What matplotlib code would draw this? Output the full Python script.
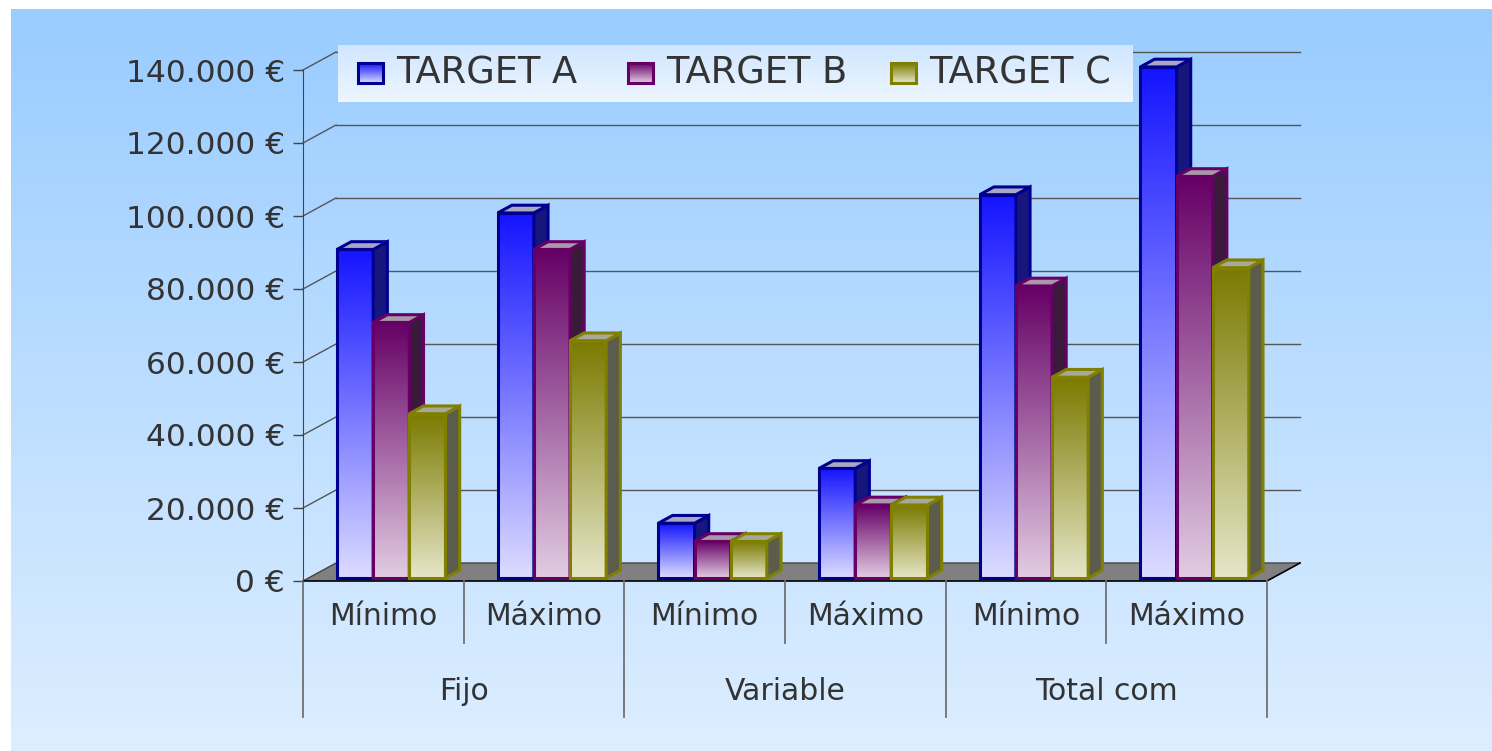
import numpy as np
import matplotlib.pyplot as plt
from matplotlib.patches import Polygon, Rectangle
from matplotlib.colors import to_rgb

# datos
grupos = ['Fijo', 'Variable', 'Total com']
subcategorias = ['Mínimo', 'Máximo', 'Mínimo', 'Máximo', 'Mínimo', 'Máximo']
series = ['TARGET A', 'TARGET B', 'TARGET C']
target_a = [90000, 100000, 15000, 30000, 105000, 140000]
target_b = [70000, 90000, 10000, 20000, 80000, 110000]
target_c = [45000, 65000, 10000, 20000, 55000, 85000]
yticks = [0, 20000, 40000, 60000, 80000, 100000, 120000, 140000]
ytick_labels = ['0 €', '20.000 €', '40.000 €', '60.000 €', '80.000 €',
                '100.000 €', '120.000 €', '140.000 €']

# estilos: (arriba, abajo, borde, lateral, tapa)
estilos = [
    ('#1414FF', '#DCDCFF', '#000090', '#16167C', '#A8A8C4'),
    ('#660066', '#E2CCE2', '#660066', '#3A1A3A', '#A898A8'),
    ('#7A7A00', '#E6E6C8', '#808000', '#5C5C4C', '#A8A898'),
]

W, H = 1492, 751
fig = plt.figure(figsize=(W / 100, H / 100), dpi=100)
fig.patch.set_facecolor('white')


def degradado(c_arriba, c_abajo, n=256):
    t = np.linspace(0, 1, n)[:, None]
    a = np.array(to_rgb(c_arriba))
    b = np.array(to_rgb(c_abajo))
    return (b + (a - b) * t)[:, None, :]


# fondo
bg = fig.add_axes([11 / W, 0, 1 - 11 / W, (H - 9) / H])
bg.imshow(degradado('#99CCFF', '#DDEEFF'), extent=(0, 1, 0, 1),
          origin='lower', aspect='auto')
bg.axis('off')

ax = fig.add_axes([303 / W, (H - 581) / H, 964 / W, 511 / H])
ax.set_facecolor('none')

n = len(subcategorias)
DX = 33 / (964 / n)          # profundidad del suelo en unidades x
DY = 18 * 140000 / 511       # profundidad del suelo en unidades y
F0 = 0.17                    # frente de las barras
D = 0.43                     # fondo de las barras
bw = 0.225
inicio = 0.177

# pared del fondo y rejilla
for v in yticks[1:]:
    ax.plot([0, DX], [v, v + DY], color='#555555', lw=1, clip_on=False, zorder=1)
    ax.plot([DX, n + DX], [v + DY, v + DY], color='#555555', lw=1,
            clip_on=False, zorder=1)

# suelo
ax.add_patch(Polygon([(0, 0), (n, 0), (n + DX, DY), (DX, DY)],
                     closed=True, fc='#808080', ec='none', clip_on=False, zorder=2))
ax.plot([0, DX, n + DX], [0, DY, DY], color='#444444', lw=1, clip_on=False, zorder=2)
ax.plot([0, n, n + DX], [0, 0, DY], color='black', lw=1.2, clip_on=False, zorder=2)

# barras
valores = [target_a, target_b, target_c]
z = 3
for i in range(n):
    for j, vals in enumerate(valores):
        c_top, c_bot, borde, lado, tapa = estilos[j]
        v = vals[i]
        xl = i + inicio + j * bw + F0 * DX
        xr = xl + bw
        yb = F0 * DY
        yt = v + F0 * DY
        ax.imshow(degradado(c_top, c_bot), extent=(xl, xr, yb, yt),
                  origin='lower', aspect='auto', interpolation='bilinear',
                  clip_on=False, zorder=z)
        ax.add_patch(Rectangle((xl, yb), bw, v, fill=False, ec=borde, lw=2.2,
                               clip_on=False, zorder=z + 0.1))
        ax.add_patch(Polygon([(xr, yb), (xr, yt), (xr + D * DX, yt + D * DY),
                              (xr + D * DX, yb + D * DY)], closed=True,
                             fc=lado, ec=borde, lw=2.2, joinstyle='miter',
                             clip_on=False, zorder=z + 0.2))
        ax.add_patch(Polygon([(xl, yt), (xr, yt), (xr + D * DX, yt + D * DY),
                              (xl + D * DX, yt + D * DY)], closed=True,
                             fc=tapa, ec=borde, lw=2.2, joinstyle='miter',
                             clip_on=False, zorder=z + 0.3))
        z += 1

ax.set_xlim(0, n)
ax.set_ylim(0, 140000)

# ejes
ax.set_yticks(yticks, ytick_labels)
ax.tick_params(axis='y', length=7, width=1, color='#444444', pad=6,
               labelsize=22.5, labelcolor='#333333')
ax.tick_params(axis='x', bottom=False, labelbottom=False)
for s in ['top', 'right', 'bottom']:
    ax.spines[s].set_visible(False)
ax.spines['left'].set_color('#444444')

# etiquetas de categorías
tr = ax.get_xaxis_transform()
for k in range(n + 1):
    largo = -0.266 if k % 2 == 0 else -0.121
    ax.plot([k, k], [0, largo], transform=tr, color='#707070', lw=1.3,
            clip_on=False)
for i, lab in enumerate(subcategorias):
    ax.text(i + 0.5, -0.07, lab, transform=tr, ha='center', va='center',
            fontsize=21.5, color='#333333')
for g, lab in enumerate(grupos):
    ax.text(2 * g + 1, -0.217, lab, transform=tr, ha='center', va='center',
            fontsize=21.5, color='#333333')

# leyenda
lax = fig.add_axes([338 / W, (H - 102) / H, 795 / W, 57 / H])
lax.imshow(degradado('#D0E6FF', '#EEF6FF'), extent=(0, 795, 0, 57),
           origin='lower', aspect='auto')
for j, (nombre, xm) in enumerate(zip(series, [20, 290, 553])):
    c_top, c_bot, borde, lado, tapa = estilos[j]
    lax.imshow(degradado(c_top, c_bot), extent=(xm, xm + 25, 19, 39),
               origin='lower', aspect='auto')
    lax.add_patch(Rectangle((xm, 19), 25, 20, fill=False, ec=borde, lw=2.2))
    lax.text(xm + 38, 29, nombre, ha='left', va='center', fontsize=26.5,
             color='#333333')
lax.set_xlim(0, 795)
lax.set_ylim(0, 57)
lax.axis('off')

fig.savefig('out.png', dpi=100)
